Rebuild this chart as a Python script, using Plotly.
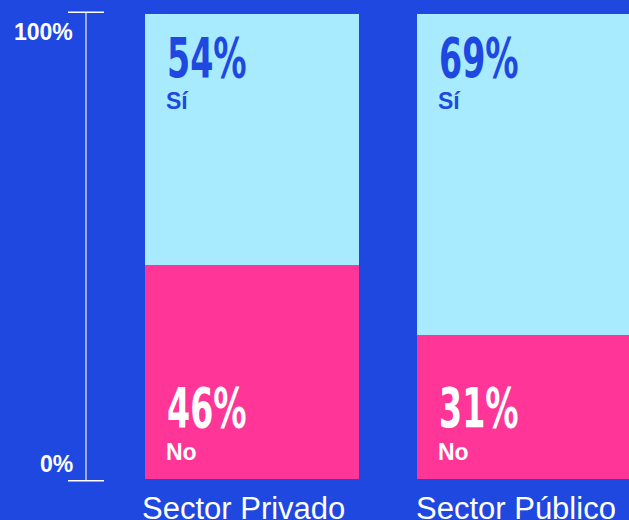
import plotly.graph_objects as go

sectors = ["Sector Privado", "Sector Público"]
si_pct = [54, 69]
no_pct = [46, 31]
axis_labels = ["0%", "100%"]

BG = "#1f48e0"
CYAN = "#a8ebff"
PINK = "#ff3598"
BIG_FONT = "DejaVu Sans Condensed, DejaVu Sans, sans-serif"
SANS = "Liberation Sans, Arial, sans-serif"
BIG_SIZE = 56
BAR_W = 0.787

xs = list(range(len(sectors)))

fig = go.Figure()
fig.add_trace(go.Bar(x=xs, y=no_pct, width=BAR_W, marker=dict(color=PINK, line=dict(width=0)),
                     name="No", hoverinfo="skip"))
fig.add_trace(go.Bar(x=xs, y=si_pct, width=BAR_W, marker=dict(color=CYAN, line=dict(width=0)),
                     name="Sí", hoverinfo="skip"))

ann = []
for i, name in enumerate(sectors):
    left = i - BAR_W / 2
    # top segment (Sí)
    ann.append(dict(x=left, y=100, xref="x", yref="y", xanchor="left", yanchor="top",
                    text=f"<b>{si_pct[i]}%</b>", showarrow=False, xshift=20, yshift=-9,
                    font=dict(family=BIG_FONT, size=BIG_SIZE, color=BG)))
    ann.append(dict(x=left, y=100, xref="x", yref="y", xanchor="left", yanchor="top",
                    text="<b>Sí</b>", showarrow=False, xshift=19, yshift=-72,
                    font=dict(family=SANS, size=23, color=BG)))
    # bottom segment (No)
    ann.append(dict(x=left, y=0, xref="x", yref="y", xanchor="left", yanchor="bottom",
                    text=f"<b>{no_pct[i]}%</b>", showarrow=False, xshift=20, yshift=37,
                    font=dict(family=BIG_FONT, size=BIG_SIZE, color="white")))
    ann.append(dict(x=left, y=0, xref="x", yref="y", xanchor="left", yanchor="bottom",
                    text="<b>No</b>", showarrow=False, xshift=19, yshift=12,
                    font=dict(family=SANS, size=23, color="white")))
    # category label
    ann.append(dict(x=i, y=0, xref="x", yref="y", xanchor="center", yanchor="top",
                    text=name, showarrow=False, xshift=-8, yshift=-10,
                    font=dict(family=SANS, size=31, color="white")))

# y axis labels
ann.append(dict(x=0, y=100, xref="paper", yref="y", xanchor="right", yanchor="top",
                text=f"<b>{axis_labels[1]}</b>", showarrow=False, xshift=-11, yshift=-3,
                font=dict(family=SANS, size=23, color="white")))
ann.append(dict(x=0, y=0, xref="paper", yref="y", xanchor="right", yanchor="bottom",
                text=f"<b>{axis_labels[0]}</b>", showarrow=False, xshift=-11, yshift=0,
                font=dict(family=SANS, size=23, color="white")))

tick_half = 18 / 543
shapes = [
    dict(type="line", xref="paper", yref="paper", x0=0, x1=0, y0=-0.004, y1=1.004,
         line=dict(color="rgba(255,255,255,0.55)", width=2)),
    dict(type="line", xref="paper", yref="paper", x0=-tick_half, x1=tick_half, y0=1.004, y1=1.004,
         line=dict(color="white", width=1.5)),
    dict(type="line", xref="paper", yref="paper", x0=-tick_half, x1=tick_half, y0=-0.004, y1=-0.004,
         line=dict(color="white", width=1.5)),
]

fig.update_layout(
    width=629, height=520,
    margin=dict(l=86, r=0, t=14, b=41),
    paper_bgcolor=BG, plot_bgcolor=BG,
    barmode="stack", showlegend=False,
    xaxis=dict(range=[-0.610, 1.386], visible=False, fixedrange=True),
    yaxis=dict(range=[0, 100], visible=False, fixedrange=True),
    annotations=ann, shapes=shapes,
)

# no condensed display font is installed, so squeeze the big percentages horizontally
js = """
document.body.style.margin='0';
document.body.style.background='%s';
var gd = document.getElementById('{plot_id}');
function squeeze() {
  gd.querySelectorAll('text.annotation-text').forEach(function(t) {
    if (parseFloat(t.style.fontSize) === %d) {
      var b = t.getBBox();
      t.setAttribute('transform', 'translate(' + b.x + ',0) scale(0.66,1) translate(' + (-b.x) + ',0)');
    }
  });
}
squeeze();
gd.on('plotly_afterplot', squeeze);
setTimeout(squeeze, 50);
""" % (BG, BIG_SIZE)

fig.write_html("out.html", config={"displayModeBar": False}, post_script=js)
